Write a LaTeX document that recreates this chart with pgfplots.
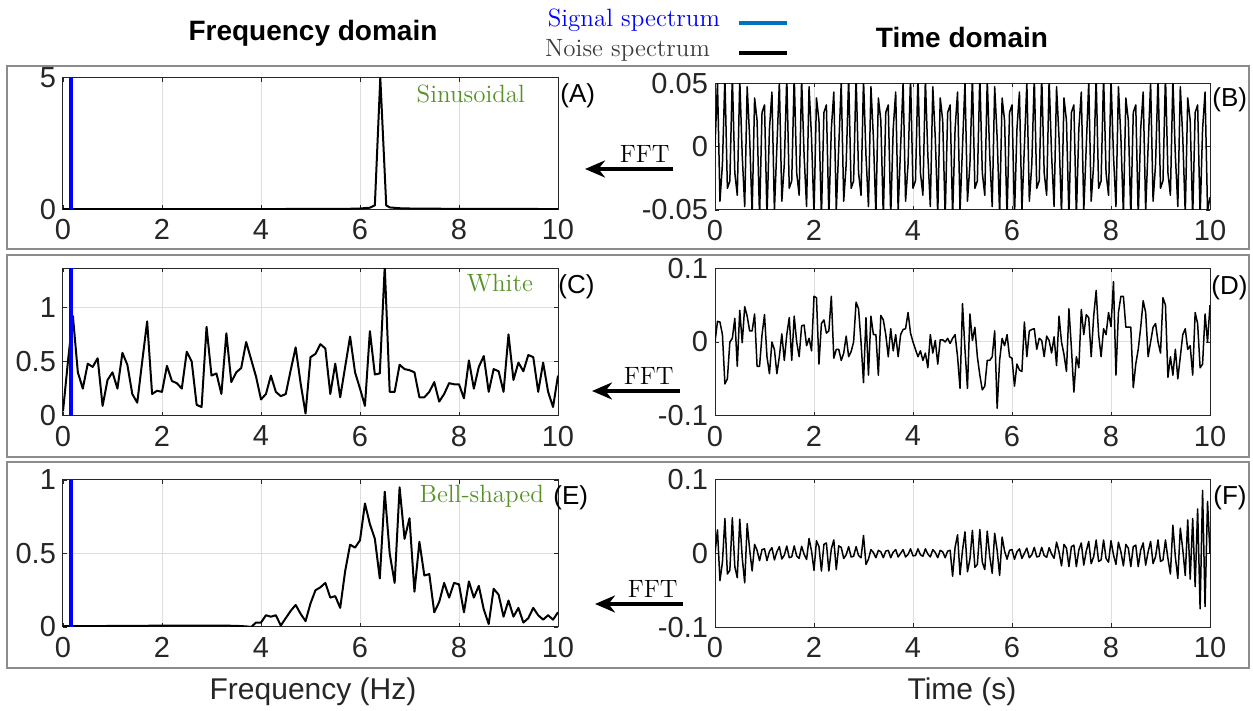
\documentclass[border=0pt]{standalone}
\usepackage{pgfplots}
\pgfplotsset{compat=1.18}
\usepackage{fontspec}
\newfontfamily\arial{Liberation Sans}
\usetikzlibrary{arrows.meta}
\definecolor{sigblue}{RGB}{0,0,255}
\definecolor{legblue}{RGB}{0,114,189}
\definecolor{labgreen}{RGB}{86,146,40}
\definecolor{axgray}{RGB}{38,38,38}
\definecolor{boxgray}{RGB}{140,140,140}
\definecolor{gridgray}{RGB}{222,222,222}
\definecolor{noisegray}{RGB}{60,60,60}
\pgfplotsset{
 panel/.style={
  scale only axis, width=247.5pt, anchor=south west,
  xmin=0, xmax=10, xtick={0,2,4,6,8,10},
  scaled ticks=false,
  grid=major, major grid style={gridgray, line width=0.5pt},
  axis line style={axgray, line width=0.5pt},
  tick align=inside, major tick length=2pt, tick style={axgray, line width=0.4pt},
  ticklabel style={font=\arial\fontsize{14.5}{14.5}\selectfont, text=axgray},
  /pgf/number format/assume math mode=true,
  xticklabel style={yshift=-1.5pt},
  every axis plot/.append style={no marks, line join=round},
 }
}
\begin{document}
\begin{tikzpicture}
% ---------- Row 1 left: sinusoidal spectrum
\begin{axis}[panel, at={(31.5pt,250.85pt)}, height=65.8pt, ymin=0, ymax=5, ytick={0,5}]
\addplot[black, line width=1pt] coordinates {(0,0.01)(1,0.01)(2,0.01)(3,0.01)(4,0.01)(5,0.012)(5.8,0.02)(6.0,0.03)(6.2,0.06)(6.3,0.15)(6.41,5.0)(6.53,0.15)(6.6,0.07)(6.8,0.04)(7,0.03)(8,0.015)(10,0.01)};
\addplot[sigblue, line width=2pt] coordinates {(0.17,0)(0.17,5)};
\end{axis}
% ---------- Row 1 right: sinusoidal time signal
\begin{axis}[panel, at={(357.5pt,250.5pt)}, height=63.35pt, ymin=-0.05, ymax=0.05, ytick={-0.05,0,0.05}, yticklabels={-0.05,0,0.05}]
\addplot[black, line width=0.75pt] coordinates {
(0,0)(0.05,0.0507)(0.1,-0.0431)(0.15,-0.0139)(0.2,0.0550)(0.25,-0.0329)(0.3,-0.0270)(0.35,0.0559)(0.4,-0.0206)(0.45,-0.0384)(0.5,0.0533)(0.55,-0.0070)(0.6,-0.0473)(0.65,0.0473)(0.7,0.0070)(0.75,-0.0533)(0.8,0.0384)(0.85,0.0206)(0.9,-0.0559)(0.95,0.0270)(1,0.0329)(1.05,-0.0550)(1.1,0.0139)(1.15,0.0431)(1.2,-0.0507)
(1.25,0)(1.3,0.0507)(1.35,-0.0431)(1.4,-0.0139)(1.45,0.0550)(1.5,-0.0329)(1.55,-0.0270)(1.6,0.0559)(1.65,-0.0206)(1.7,-0.0384)(1.75,0.0533)(1.8,-0.0070)(1.85,-0.0473)(1.9,0.0473)(1.95,0.0070)(2,-0.0533)(2.05,0.0384)(2.1,0.0206)(2.15,-0.0559)(2.2,0.0270)(2.25,0.0329)(2.3,-0.0550)(2.35,0.0139)(2.4,0.0431)(2.45,-0.0507)
(2.5,0)(2.55,0.0507)(2.6,-0.0431)(2.65,-0.0139)(2.7,0.0550)(2.75,-0.0329)(2.8,-0.0270)(2.85,0.0559)(2.9,-0.0206)(2.95,-0.0384)(3,0.0533)(3.05,-0.0070)(3.1,-0.0473)(3.15,0.0473)(3.2,0.0070)(3.25,-0.0533)(3.3,0.0384)(3.35,0.0206)(3.4,-0.0559)(3.45,0.0270)(3.5,0.0329)(3.55,-0.0550)(3.6,0.0139)(3.65,0.0431)(3.7,-0.0507)
(3.75,0)(3.8,0.0507)(3.85,-0.0431)(3.9,-0.0139)(3.95,0.0550)(4,-0.0329)(4.05,-0.0270)(4.1,0.0559)(4.15,-0.0206)(4.2,-0.0384)(4.25,0.0533)(4.3,-0.0070)(4.35,-0.0473)(4.4,0.0473)(4.45,0.0070)(4.5,-0.0533)(4.55,0.0384)(4.6,0.0206)(4.65,-0.0559)(4.7,0.0270)(4.75,0.0329)(4.8,-0.0550)(4.85,0.0139)(4.9,0.0431)(4.95,-0.0507)
(5,0)(5.05,0.0507)(5.1,-0.0431)(5.15,-0.0139)(5.2,0.0550)(5.25,-0.0329)(5.3,-0.0270)(5.35,0.0559)(5.4,-0.0206)(5.45,-0.0384)(5.5,0.0533)(5.55,-0.0070)(5.6,-0.0473)(5.65,0.0473)(5.7,0.0070)(5.75,-0.0533)(5.8,0.0384)(5.85,0.0206)(5.9,-0.0559)(5.95,0.0270)(6,0.0329)(6.05,-0.0550)(6.1,0.0139)(6.15,0.0431)(6.2,-0.0507)
(6.25,0)(6.3,0.0507)(6.35,-0.0431)(6.4,-0.0139)(6.45,0.0550)(6.5,-0.0329)(6.55,-0.0270)(6.6,0.0559)(6.65,-0.0206)(6.7,-0.0384)(6.75,0.0533)(6.8,-0.0070)(6.85,-0.0473)(6.9,0.0473)(6.95,0.0070)(7,-0.0533)(7.05,0.0384)(7.1,0.0206)(7.15,-0.0559)(7.2,0.0270)(7.25,0.0329)(7.3,-0.0550)(7.35,0.0139)(7.4,0.0431)(7.45,-0.0507)
(7.5,0)(7.55,0.0507)(7.6,-0.0431)(7.65,-0.0139)(7.7,0.0550)(7.75,-0.0329)(7.8,-0.0270)(7.85,0.0559)(7.9,-0.0206)(7.95,-0.0384)(8,0.0533)(8.05,-0.0070)(8.1,-0.0473)(8.15,0.0473)(8.2,0.0070)(8.25,-0.0533)(8.3,0.0384)(8.35,0.0206)(8.4,-0.0559)(8.45,0.0270)(8.5,0.0329)(8.55,-0.0550)(8.6,0.0139)(8.65,0.0431)(8.7,-0.0507)
(8.75,0)(8.8,0.0507)(8.85,-0.0431)(8.9,-0.0139)(8.95,0.0550)(9,-0.0329)(9.05,-0.0270)(9.1,0.0559)(9.15,-0.0206)(9.2,-0.0384)(9.25,0.0533)(9.3,-0.0070)(9.35,-0.0473)(9.4,0.0473)(9.45,0.0070)(9.5,-0.0533)(9.55,0.0384)(9.6,0.0206)(9.65,-0.0559)(9.7,0.0270)(9.75,0.0329)(9.8,-0.0550)(9.85,0.0139)(9.9,0.0431)(9.95,-0.0507)
(10,-0.04)};
\end{axis}
% ---------- Row 2 left: white noise spectrum
\begin{axis}[panel, at={(31.5pt,147.65pt)}, height=73.7pt, ymin=0, ymax=1.36, ytick={0,0.5,1}]
\addplot[black, line width=1pt] coordinates {
(0,0.04)(0.1,0.5)(0.2,0.92)(0.3,0.4)(0.4,0.25)(0.5,0.48)(0.6,0.45)(0.7,0.53)(0.8,0.09)(0.9,0.33)
(1.0,0.40)(1.1,0.25)(1.2,0.58)(1.3,0.47)(1.4,0.2)(1.5,0.12)(1.6,0.5)(1.7,0.87)(1.8,0.2)(1.9,0.23)
(2.0,0.22)(2.1,0.46)(2.2,0.32)(2.3,0.3)(2.4,0.25)(2.5,0.59)(2.6,0.5)(2.7,0.1)(2.8,0.08)(2.9,0.82)
(3.0,0.37)(3.1,0.39)(3.2,0.2)(3.3,0.76)(3.4,0.31)(3.5,0.4)(3.6,0.44)(3.7,0.68)(3.8,0.52)(3.9,0.36)
(4.0,0.15)(4.1,0.2)(4.2,0.37)(4.3,0.22)(4.4,0.18)(4.5,0.2)(4.6,0.42)(4.7,0.63)(4.8,0.3)(4.9,0.02)
(5.0,0.54)(5.1,0.57)(5.2,0.66)(5.3,0.62)(5.4,0.2)(5.5,0.48)(5.6,0.17)(5.7,0.45)(5.8,0.73)(5.9,0.4)
(6.0,0.25)(6.1,0.09)(6.2,0.78)(6.3,0.38)(6.4,0.39)(6.5,1.38)(6.6,0.22)(6.7,0.22)(6.8,0.47)(6.9,0.43)
(7.0,0.42)(7.1,0.4)(7.2,0.17)(7.3,0.17)(7.4,0.22)(7.5,0.31)(7.6,0.13)(7.7,0.2)(7.8,0.3)(7.9,0.29)
(8.0,0.29)(8.1,0.16)(8.2,0.51)(8.3,0.25)(8.4,0.45)(8.5,0.55)(8.6,0.22)(8.7,0.43)(8.8,0.41)(8.9,0.22)
(9.0,0.75)(9.1,0.33)(9.2,0.49)(9.3,0.41)(9.4,0.56)(9.5,0.54)(9.6,0.22)(9.7,0.49)(9.8,0.22)(9.9,0.08)(10,0.37)};
\addplot[sigblue, line width=2pt] coordinates {(0.17,0)(0.17,1.36)};
\end{axis}
% ---------- Row 2 right: white noise time signal
\begin{axis}[panel, at={(357.5pt,147.65pt)}, height=73.7pt, ymin=-0.1, ymax=0.1, ytick={-0.1,0,0.1}, yticklabels={-0.1,0,0.1}]
\addplot[black, line width=0.75pt] coordinates {
(0,0)(0.05,0.028)(0.1,0.027)(0.15,0.01)(0.2,-0.057)(0.25,-0.05)(0.3,0.0)(0.35,0.005)(0.4,0.032)(0.45,-0.033)
(0.5,0.043)(0.55,-0.001)(0.6,0.048)(0.65,0.035)(0.7,0.015)(0.75,0.015)(0.8,0.038)(0.85,-0.033)(0.9,-0.033)(0.95,0.01)
(1,0.037)(1.05,-0.02)(1.1,-0.043)(1.15,0.0)(1.2,-0.01)(1.25,-0.043)(1.3,-0.02)(1.35,0.011)(1.4,-0.025)(1.45,0.01)
(1.5,0.033)(1.55,-0.025)(1.6,0.035)(1.65,0.0)(1.7,-0.02)(1.75,0.022)(1.8,0.023)(1.85,-0.005)(1.9,0.005)(1.95,-0.012)
(2,0.062)(2.05,0.06)(2.1,-0.03)(2.15,0.025)(2.2,0.03)(2.25,0.012)(2.3,0.015)(2.35,0.062)(2.4,-0.022)(2.45,-0.01)
(2.5,-0.01)(2.55,-0.025)(2.6,-0.015)(2.65,0.008)(2.7,-0.02)(2.75,-0.013)(2.8,0.0)(2.85,0.054)(2.9,0.045)(2.95,0.0)
(3,-0.055)(3.05,0.033)(3.1,-0.045)(3.15,0.035)(3.2,0.01)(3.25,0.01)(3.3,-0.045)(3.35,0.036)(3.4,0.03)(3.45,0.01)
(3.5,-0.02)(3.55,0.018)(3.6,-0.012)(3.65,0.01)(3.7,-0.02)(3.75,0.01)(3.8,0.017)(3.85,0.018)(3.9,0.04)(3.95,0.012)
(4,0.0)(4.05,-0.01)(4.1,-0.02)(4.15,-0.012)(4.2,-0.025)(4.25,-0.015)(4.3,-0.035)(4.35,0.01)(4.4,-0.015)(4.45,0.002)
(4.5,-0.03)(4.55,0.003)(4.6,0.003)(4.65,0.0)(4.7,0.005)(4.75,-0.002)(4.8,0.005)(4.85,0.01)(4.9,-0.02)(4.95,-0.063)
(5,0.052)(5.05,-0.01)(5.1,-0.063)(5.15,0.038)(5.2,0.002)(5.25,0.02)(5.3,-0.02)(5.35,-0.045)(5.4,-0.065)(5.45,-0.06)
(5.5,-0.025)(5.55,-0.025)(5.6,-0.02)(5.65,0.015)(5.7,-0.09)(5.75,-0.025)(5.8,0.005)(5.85,-0.005)(5.9,0.01)(5.95,-0.02)
(6,-0.022)(6.05,-0.06)(6.1,-0.03)(6.15,-0.038)(6.2,-0.04)(6.25,0.027)(6.3,-0.02)(6.35,0.015)(6.4,0.017)(6.45,0.018)
(6.5,-0.01)(6.55,0.005)(6.6,0.002)(6.65,-0.02)(6.7,0.008)(6.75,0.002)(6.8,-0.015)(6.85,0.007)(6.9,-0.032)(6.95,0.035)
(7,0.0)(7.05,-0.017)(7.1,-0.04)(7.15,0.045)(7.2,-0.008)(7.25,-0.068)(7.3,-0.02)(7.35,-0.035)(7.4,0.044)(7.45,0.01)
(7.5,0.037)(7.55,0.033)(7.6,-0.02)(7.65,0.035)(7.7,0.07)(7.75,0.01)(7.8,-0.02)(7.85,0.018)(7.9,0.01)(7.95,0.04)
(8,0.021)(8.05,0.082)(8.1,-0.045)(8.15,0.04)(8.2,0.062)(8.25,0.062)(8.3,0.02)(8.35,0.02)(8.4,0.02)(8.45,-0.062)
(8.5,-0.03)(8.55,-0.01)(8.6,0.02)(8.65,0.056)(8.7,0.04)(8.75,-0.02)(8.8,0.0)(8.85,0.02)(8.9,0.025)(8.95,0.0)
(9,-0.015)(9.05,0.06)(9.1,0.05)(9.15,-0.048)(9.2,-0.02)(9.25,-0.045)(9.3,-0.01)(9.35,-0.05)(9.4,-0.02)(9.45,0.01)
(9.5,0.018)(9.55,-0.01)(9.6,-0.005)(9.65,-0.045)(9.7,0.04)(9.75,0.025)(9.8,-0.035)(9.85,-0.03)(9.9,0.038)(9.95,0.0)
(10,0.05)};
\end{axis}
% ---------- Row 3 left: bell-shaped spectrum
\begin{axis}[panel, at={(31.5pt,42pt)}, height=73.5pt, ymin=0, ymax=1, ytick={0,0.5,1}]
\addplot[black, line width=1pt] coordinates {
(0,0.005)(1,0.007)(2,0.009)(3,0.01)(3.5,0.008)(3.7,0.004)(3.8,0.0)(3.9,0.03)
(4.0,0.03)(4.1,0.08)(4.2,0.07)(4.3,0.08)(4.4,0.01)(4.5,0.06)(4.6,0.11)(4.7,0.15)(4.8,0.09)(4.9,0.04)
(5.0,0.16)(5.1,0.25)(5.2,0.27)(5.3,0.3)(5.4,0.2)(5.5,0.21)(5.6,0.13)(5.7,0.38)(5.8,0.56)(5.9,0.54)
(6.0,0.59)(6.1,0.84)(6.2,0.7)(6.3,0.6)(6.4,0.33)(6.5,0.92)(6.6,0.5)(6.7,0.3)(6.8,0.95)(6.9,0.6)
(7.0,0.74)(7.1,0.24)(7.2,0.58)(7.3,0.35)(7.4,0.36)(7.5,0.1)(7.6,0.17)(7.7,0.3)(7.8,0.2)(7.9,0.3)
(8.0,0.29)(8.1,0.1)(8.2,0.31)(8.3,0.2)(8.4,0.28)(8.5,0.12)(8.6,0.02)(8.7,0.26)(8.8,0.22)(8.9,0.07)
(9.0,0.18)(9.1,0.07)(9.2,0.13)(9.3,0.03)(9.4,0.06)(9.5,0.13)(9.6,0.08)(9.7,0.05)(9.8,0.08)(9.9,0.05)(10,0.1)};
\addplot[sigblue, line width=2pt] coordinates {(0.17,0)(0.17,1)};
\end{axis}
% ---------- Row 3 right: bell-shaped noise time signal
\begin{axis}[panel, at={(357.5pt,41.85pt)}, height=74pt, ymin=-0.1, ymax=0.1, ytick={-0.1,0,0.1}, yticklabels={-0.1,0,0.1}]
\addplot[black, line width=0.75pt] coordinates {
(0,0)(0.05,0.0315)(0.1,-0.037)(0.15,-0.012)(0.2,0.047)(0.25,-0.028)(0.3,-0.023)(0.35,0.048)(0.4,-0.018)(0.45,-0.033)
(0.5,0.046)(0.55,-0.006)(0.6,-0.040)(0.65,0.040)(0.7,0.005)(0.75,-0.024)(0.8,0.012)(0.85,0.004)(0.9,-0.010)(0.95,0.005)
(1,0.006)(1.05,-0.0098)(1.1,0.0025)(1.15,0.0077)(1.2,-0.009)(1.25,0.002)(1.3,0.009)(1.35,-0.0077)(1.4,-0.0025)(1.45,0.0098)
(1.5,-0.0059)(1.55,-0.0048)(1.6,0.01)(1.65,-0.0037)(1.7,-0.0069)(1.75,0.0095)(1.8,-0.0013)(1.85,-0.0084)(1.9,0.020)(1.95,0.003)
(2,-0.023)(2.05,0.017)(2.1,0.009)(2.15,-0.024)(2.2,0.012)(2.25,0.014)(2.3,-0.024)(2.35,0.006)(2.4,0.018)(2.45,-0.022)
(2.5,0.01)(2.55,0.008)(2.6,-0.007)(2.65,-0.002)(2.7,0.009)(2.75,-0.005)(2.8,-0.004)(2.85,0.009)(2.9,-0.003)(2.95,-0.006)
(3,0.024)(3.05,-0.015)(3.1,-0.008)(3.15,0.005)(3.2,0.001)(3.25,-0.006)(3.3,0.004)(3.35,0.002)(3.4,-0.006)(3.45,0.003)
(3.5,0.004)(3.55,-0.006)(3.6,0.0015)(3.65,0.005)(3.7,-0.005)(3.75,0)(3.8,0.005)(3.85,-0.005)(3.9,-0.0015)(3.95,0.006)
(4,-0.0035)(4.05,-0.003)(4.1,0.006)(4.15,-0.002)(4.2,-0.004)(4.25,0.006)(4.3,-0.001)(4.35,-0.005)(4.4,0.005)(4.45,0.001)
(4.5,-0.006)(4.55,0.004)(4.6,0.002)(4.65,-0.006)(4.7,0.003)(4.75,0.004)(4.8,-0.031)(4.85,0.008)(4.9,0.025)(4.95,-0.029)
(5,0.004)(5.05,0.029)(5.1,-0.025)(5.15,-0.008)(5.2,0.031)(5.25,-0.019)(5.3,-0.015)(5.35,0.032)(5.4,-0.012)(5.45,-0.022)
(5.5,0.030)(5.55,-0.004)(5.6,-0.027)(5.65,0.027)(5.7,0.004)(5.75,-0.03)(5.8,0.022)(5.85,0.003)(5.9,-0.008)(5.95,0.004)
(6,0.005)(6.05,-0.008)(6.1,0.002)(6.15,0.006)(6.2,-0.007)(6.25,0)(6.3,0.007)(6.35,-0.006)(6.4,-0.002)(6.45,0.008)
(6.5,-0.005)(6.55,-0.004)(6.6,0.008)(6.65,-0.003)(6.7,-0.0055)(6.75,0.0076)(6.8,-0.001)(6.85,-0.0067)(6.9,0.015)(6.95,0.002)
(7,-0.017)(7.05,0.012)(7.1,0.007)(7.15,-0.018)(7.2,0.009)(7.25,0.011)(7.3,-0.018)(7.35,0.0045)(7.4,0.014)(7.45,-0.016)
(7.5,0.003)(7.55,0.016)(7.6,-0.014)(7.65,-0.0045)(7.7,0.018)(7.75,-0.011)(7.8,-0.009)(7.85,0.018)(7.9,-0.007)(7.95,-0.012)
(8,0.017)(8.05,-0.002)(8.1,-0.015)(8.15,0.015)(8.2,0.002)(8.25,-0.017)(8.3,0.012)(8.35,0.007)(8.4,-0.018)(8.45,0.009)
(8.5,0.011)(8.55,-0.018)(8.6,0.0045)(8.65,0.014)(8.7,-0.016)(8.75,0.002)(8.8,0.016)(8.85,-0.014)(8.9,-0.0045)(8.95,0.018)
(9,-0.011)(9.05,-0.009)(9.1,0.018)(9.15,-0.007)(9.2,-0.028)(9.25,0.038)(9.3,-0.005)(9.35,-0.034)(9.4,0.034)(9.45,0.005)
(9.5,-0.03)(9.55,0.045)(9.6,-0.035)(9.65,0.047)(9.7,-0.045)(9.75,0.06)(9.8,-0.075)(9.85,0.085)(9.9,-0.072)(9.95,0.07)
(10,0)};
\end{axis}
% ---------- annotations (pixel coordinates, origin top-left)
\begin{scope}[x=0.5pt, y=-0.5pt, shift={(0pt,355.5pt)}]
\draw[boxgray, line width=1pt] (7,66) rectangle (1249,249);
\draw[boxgray, line width=1pt] (7,255) rectangle (1249,457);
\draw[boxgray, line width=1pt] (7,462) rectangle (1249,668);
\node[font=\arial\bfseries\fontsize{14}{14}\selectfont] at (313,33) {Frequency domain};
\node[font=\arial\bfseries\fontsize{14}{14}\selectfont] at (962,38) {Time domain};
\node[anchor=base east, text=sigblue, font=\fontsize{12.5}{12.5}\selectfont] at (727,27) {Signal spectrum};
\node[anchor=base east, text=noisegray, font=\fontsize{12.5}{12.5}\selectfont] at (717,57) {Noise spectrum};
\draw[legblue, line width=2pt] (739,23) -- (787,23);
\draw[black, line width=2pt] (739,53) -- (787,53);
\node[anchor=base east, text=labgreen, font=\fontsize{12.5}{12.5}\selectfont] at (532,103) {Sinusoidal};
\node[anchor=base east, text=labgreen, font=\fontsize{12.5}{12.5}\selectfont] at (540,292) {White};
\node[anchor=base east, text=labgreen, font=\fontsize{12.5}{12.5}\selectfont] at (551,503) {Bell-shaped};
\node[anchor=west, inner sep=0pt, font=\arial\fontsize{13}{13}\selectfont] at (560,96) {(A)};
\node[anchor=west, inner sep=0pt, font=\arial\fontsize{13}{13}\selectfont] at (1212,100) {(B)};
\node[anchor=west, inner sep=0pt, font=\arial\fontsize{13}{13}\selectfont] at (558,287) {(C)};
\node[anchor=west, inner sep=0pt, font=\arial\fontsize{13}{13}\selectfont] at (1211,288) {(D)};
\node[anchor=west, inner sep=0pt, font=\arial\fontsize{13}{13}\selectfont] at (553,498) {(E)};
\node[anchor=west, inner sep=0pt, font=\arial\fontsize{13}{13}\selectfont] at (1213,498) {(F)};
\draw[black, line width=2pt, -{Stealth[length=10pt,width=8.5pt]}] (673,169) -- (585,169);
\draw[black, line width=2pt, -{Stealth[length=10pt,width=8.5pt]}] (680,391) -- (592,391);
\draw[black, line width=2pt, -{Stealth[length=10pt,width=8.5pt]}] (683,604) -- (595,604);
\node[anchor=base east, inner sep=0pt, font=\fontsize{12.5}{12.5}\selectfont] at (670,163) {FFT};
\node[anchor=base east, inner sep=0pt, font=\fontsize{12.5}{12.5}\selectfont] at (674,385) {FFT};
\node[anchor=base east, inner sep=0pt, font=\fontsize{12.5}{12.5}\selectfont] at (678,598) {FFT};
\node[anchor=base, font=\arial\fontsize{15}{15}\selectfont, text=axgray] at (313,700) {Frequency (Hz)};
\node[anchor=base, font=\arial\fontsize{15}{15}\selectfont, text=axgray] at (962,700) {Time (s)};
\pgfresetboundingbox
\useasboundingbox (0,0) rectangle (1253,711);
\end{scope}
\end{tikzpicture}
\end{document}
